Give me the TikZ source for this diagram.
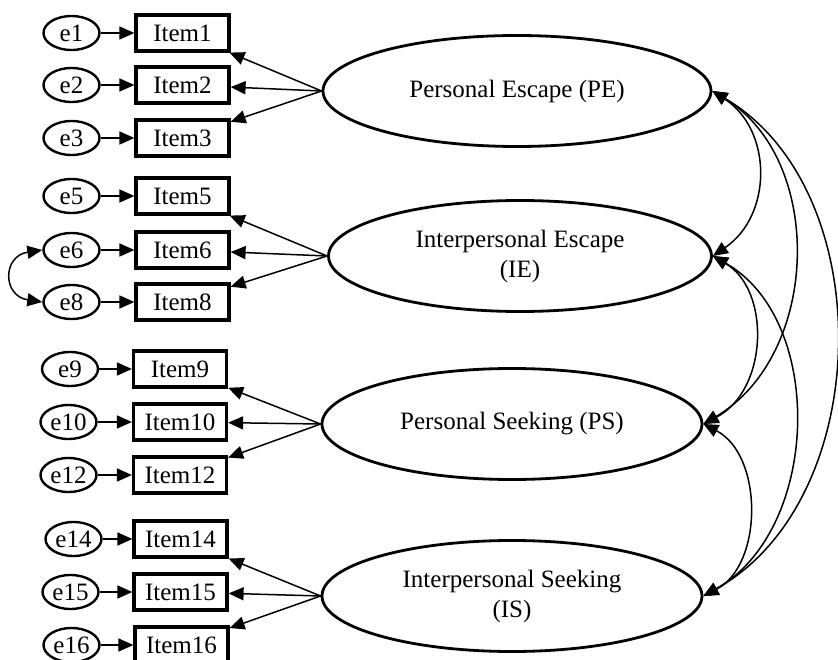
\documentclass[tikz,border=0pt]{standalone}
\usepackage{fontspec}
\setmainfont{Liberation Serif}
\usetikzlibrary{shapes.geometric,arrows.meta}
\begin{document}
\begin{tikzpicture}[x=1pt,y=-1pt,
  every node/.style={font=\fontsize{25}{30}\selectfont},
  item/.style={draw,line width=3.2pt,minimum width=93pt,minimum height=36pt,inner sep=0pt},
  err/.style={draw,ellipse,line width=2.4pt,minimum width=56pt,minimum height=34pt,inner sep=0pt},
  latent/.style={draw,ellipse,line width=2.8pt,minimum height=111pt,inner sep=0pt,align=center},
  tip/.style={-{Triangle[length=15pt,width=13pt]},line width=1.5pt},
  cov/.style={{Triangle[length=15pt,width=13pt]}-{Triangle[length=15pt,width=13pt]},line width=1.5pt}]
\useasboundingbox (0,0) rectangle (838,660);

% latent factors
\node[latent,minimum width=388pt] (PE) at (517,91) {Personal Escape (PE)};
\node[latent,minimum width=383pt] (IE) at (520,256) {Interpersonal Escape\\(IE)};
\node[latent,minimum width=380pt] (PS) at (512,424) {Personal Seeking (PS)};
\node[latent,minimum width=380pt] (IS) at (512,596) {Interpersonal Seeking\\(IS)};

% indicators
\node[item] (I1)  at (182.5,33)  {Item1};
\node[item] (I2)  at (182.5,85)  {Item2};
\node[item] (I3)  at (182.5,138) {Item3};
\node[item] (I5)  at (182.5,196) {Item5};
\node[item] (I6)  at (182.5,250) {Item6};
\node[item] (I8)  at (182.5,302) {Item8};
\node[item] (I9)  at (180,369)   {Item9};
\node[item] (I10) at (180,422)   {Item10};
\node[item] (I12) at (180,475)   {Item12};
\node[item] (I14) at (180.5,539) {Item14};
\node[item] (I15) at (180.5,592) {Item15};
\node[item] (I16) at (181.5,645) {Item16};

% error terms
\node[err] (e1)  at (71.5,33)  {e1};
\node[err] (e2)  at (71.5,85)  {e2};
\node[err] (e3)  at (71.5,138) {e3};
\node[err] (e5)  at (71.5,196) {e5};
\node[err] (e6)  at (71.5,250) {e6};
\node[err] (e8)  at (71.5,302) {e8};
\node[err] (e9)  at (70,369)   {e9};
\node[err] (e10) at (68.5,422) {e10};
\node[err] (e12) at (68.5,475) {e12};
\node[err] (e14) at (73.5,539) {e14};
\node[err] (e15) at (70.5,592) {e15};
\node[err] (e16) at (71.5,645) {e16};

% error paths
\foreach \n in {1,2,3,5,6,8,9,10,12,14,15,16}
  \draw[tip] (e\n.east) -- (I\n.west);

% loadings
\foreach \n in {1,2,3} \draw[tip] (PE.west) -- (I\n);
\foreach \n in {5,6,8} \draw[tip] (IE.west) -- (I\n);
\foreach \n in {9,10,12} \draw[tip] (PS.west) -- (I\n);
\foreach \n in {14,15,16} \draw[tip] (IS.west) -- (I\n);

% correlated errors
\draw[cov] (e6.west) .. controls +(-40,6) and +(-40,-6) .. (e8.west);

% factor covariances
\draw[cov] (PE.east) .. controls +(60,39) and +(60,-41) .. (IE.east);
\draw[cov] (PE.east) .. controls +(113,69) and +(117,-69) .. (PS.east);
\draw[cov] (PE.east) .. controls +(168,99) and +(172,-96) .. (IS.east);
\draw[cov] (IE.east) .. controls +(58,34) and +(65,-34) .. (PS.east);
\draw[cov] (IE.east) .. controls +(113,64) and +(117,-66) .. (IS.east);
\draw[cov] (PS.east) .. controls +(60,31) and +(60,-31) .. (IS.east);
\end{tikzpicture}
\end{document}
